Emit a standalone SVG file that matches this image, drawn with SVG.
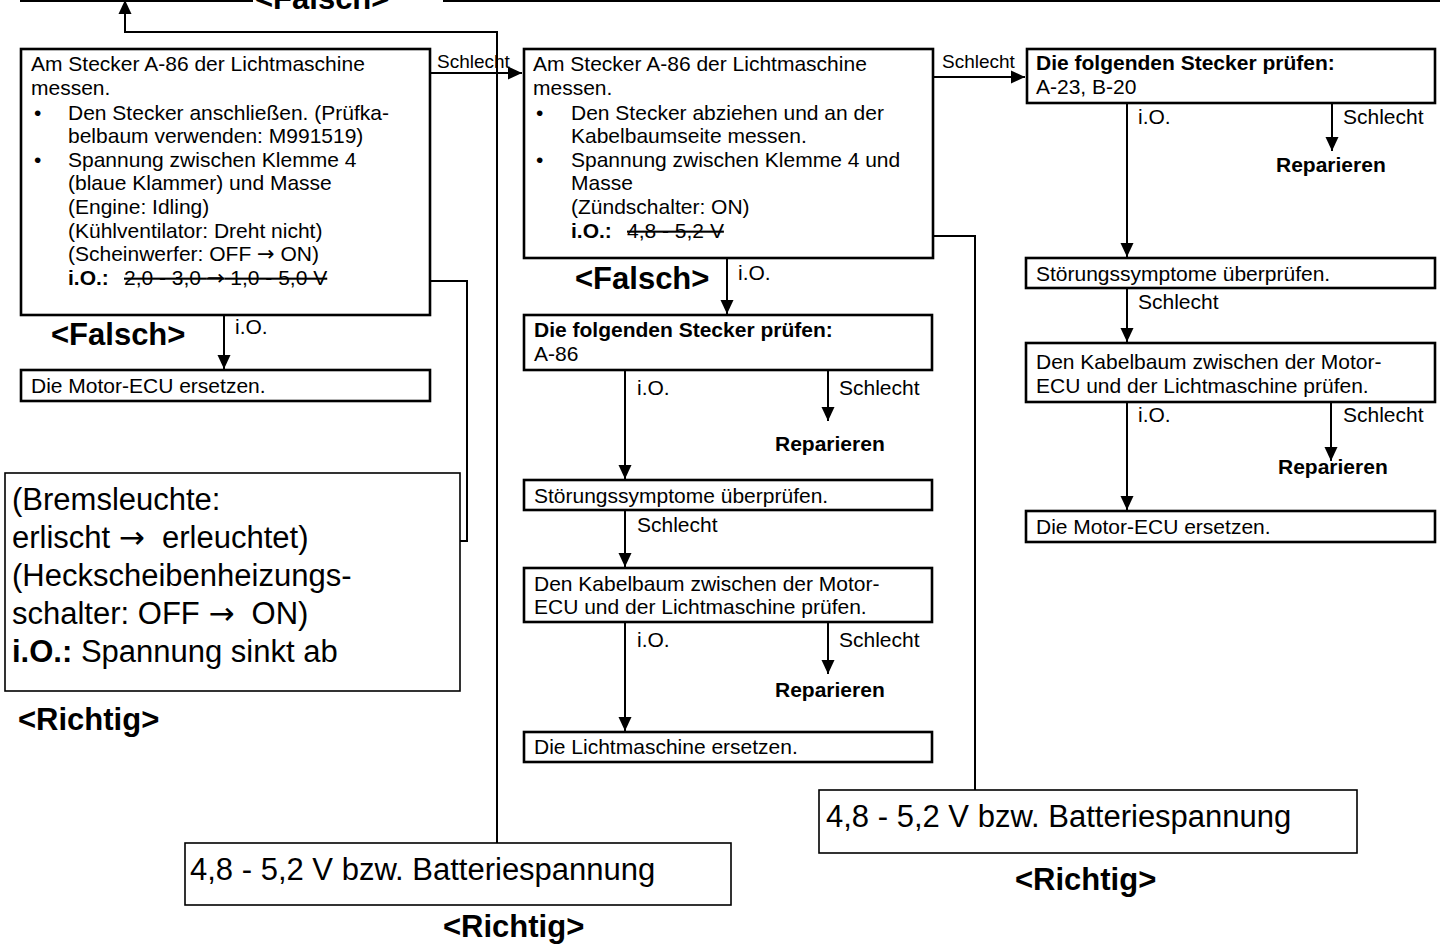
<svg xmlns="http://www.w3.org/2000/svg" width="1442" height="945" viewBox="0 0 1442 945">
<defs>
<marker id="ah" markerUnits="userSpaceOnUse" markerWidth="16" markerHeight="16" refX="14" refY="8" orient="auto" viewBox="0 0 16 16">
<path d="M0,1.5 L14,8 L0,14.5 z" fill="#000"/>
</marker>
</defs>
<style>
text{font-family:"Liberation Sans",Arial,sans-serif;fill:#000;}
.t{font-size:21px;}
.b{font-size:21px;font-weight:bold;}
.s{font-size:19px;}
.big{font-size:31px;}
.h{font-size:31px;font-weight:bold;}
.ar{font-family:"DejaVu Sans",sans-serif;}
.box{fill:#fff;stroke:#000;stroke-width:2.6;}
.cbox{fill:#fff;stroke:#000;stroke-width:1.6;}
.c{fill:none;stroke:#000;stroke-width:2;}
.cm{fill:none;stroke:#000;stroke-width:2;marker-end:url(#ah);}
.st{text-decoration:line-through;}
</style>
<rect width="1442" height="945" fill="#fff"/>

<g id="connectors">
<line class="c" x1="20" y1="1" x2="253" y2="1"/>
<line class="c" x1="443" y1="1" x2="1440" y2="1"/>
<polyline class="cm" points="497,843 497,32 125,32 125,0"/>
<polyline class="cm" points="460,541 467,541 467,281 345,281"/>
<polyline class="cm" points="975,790 975,236 738,236"/>
<line class="cm" x1="430" y1="73" x2="522" y2="73"/>
<line class="cm" x1="933" y1="77" x2="1025" y2="77"/>
<line class="cm" x1="224" y1="316" x2="224" y2="369"/>
<line class="cm" x1="727" y1="259" x2="727" y2="314"/>
<line class="cm" x1="625" y1="371" x2="625" y2="479"/>
<line class="cm" x1="828" y1="371" x2="828" y2="421"/>
<line class="cm" x1="625" y1="511" x2="625" y2="567"/>
<line class="cm" x1="625" y1="623" x2="625" y2="731"/>
<line class="cm" x1="828" y1="623" x2="828" y2="674"/>
<line class="cm" x1="1127" y1="104" x2="1127" y2="257"/>
<line class="cm" x1="1332" y1="104" x2="1332" y2="151"/>
<line class="cm" x1="1127" y1="289" x2="1127" y2="342"/>
<line class="cm" x1="1127" y1="403" x2="1127" y2="510"/>
<line class="cm" x1="1331" y1="403" x2="1331" y2="461"/>
</g>

<g id="labels">
<text class="h" x="255" y="9">&lt;Falsch&gt;</text>
<text class="s" x="437" y="68">Schlecht</text>
<text class="s" x="942" y="68">Schlecht</text>
<text class="h" x="51" y="345">&lt;Falsch&gt;</text>
<text class="t" x="235" y="334">i.O.</text>
<text class="h" x="575" y="289">&lt;Falsch&gt;</text>
<text class="t" x="738" y="280">i.O.</text>
<text class="t" x="637" y="395">i.O.</text>
<text class="t" x="839" y="395">Schlecht</text>
<text class="b" x="775" y="451">Reparieren</text>
<text class="t" x="637" y="532">Schlecht</text>
<text class="t" x="637" y="647">i.O.</text>
<text class="t" x="839" y="647">Schlecht</text>
<text class="b" x="775" y="697">Reparieren</text>
<text class="t" x="1138" y="124">i.O.</text>
<text class="t" x="1343" y="124">Schlecht</text>
<text class="b" x="1276" y="172">Reparieren</text>
<text class="t" x="1138" y="309">Schlecht</text>
<text class="t" x="1138" y="422">i.O.</text>
<text class="t" x="1343" y="422">Schlecht</text>
<text class="b" x="1278" y="474">Reparieren</text>
<text class="h" x="18" y="730">&lt;Richtig&gt;</text>
<text class="h" x="443" y="937">&lt;Richtig&gt;</text>
<text class="h" x="1015" y="890">&lt;Richtig&gt;</text>
</g>

<g id="n-left-measure">
<rect class="box" x="21" y="49" width="409" height="266"/>
<text class="t" x="31" y="71">Am Stecker A-86 der Lichtmaschine</text>
<text class="t" x="31" y="95">messen.</text>
<text class="t" x="34" y="120">•</text>
<text class="t" x="68" y="120">Den Stecker anschließen. (Prüfka-</text>
<text class="t" x="68" y="143">belbaum verwenden: M991519)</text>
<text class="t" x="34" y="167">•</text>
<text class="t" x="68" y="167">Spannung zwischen Klemme 4</text>
<text class="t" x="68" y="190">(blaue Klammer) und Masse</text>
<text class="t" x="68" y="214">(Engine: Idling)</text>
<text class="t" x="68" y="238">(Kühlventilator: Dreht nicht)</text>
<text class="t" x="68" y="261">(Scheinwerfer: OFF <tspan class="ar">→</tspan> ON)</text>
<text class="b" x="68" y="285">i.O.:</text>
<text class="t st" x="124" y="285">2,0 - 3,0 <tspan class="ar">→</tspan> 1,0 - 5,0 V</text>
</g>

<g id="n-left-replace">
<rect class="box" x="21" y="370" width="409" height="31"/>
<text class="t" x="31" y="393">Die Motor-ECU ersetzen.</text>
</g>

<g id="n-left-note">
<rect class="cbox" x="5" y="473" width="455" height="218"/>
<text class="big" x="12" y="510">(Bremsleuchte:</text>
<text class="big" x="12" y="548" xml:space="preserve">erlischt <tspan class="ar">→</tspan>  erleuchtet)</text>
<text class="big" x="12" y="586">(Heckscheibenheizungs-</text>
<text class="big" x="12" y="624" xml:space="preserve">schalter: OFF <tspan class="ar">→</tspan>  ON)</text>
<text class="big" x="12" y="662"><tspan font-weight="bold">i.O.:</tspan> Spannung sinkt ab</text>
</g>

<g id="n-bottom-left-note">
<rect class="cbox" x="185" y="843" width="546" height="62"/>
<text class="big" x="190" y="880">4,8 - 5,2 V bzw. Batteriespannung</text>
</g>

<g id="n-mid-measure">
<rect class="box" x="524" y="49" width="409" height="209"/>
<text class="t" x="533" y="71">Am Stecker A-86 der Lichtmaschine</text>
<text class="t" x="533" y="95">messen.</text>
<text class="t" x="536" y="120">•</text>
<text class="t" x="571" y="120">Den Stecker abziehen und an der</text>
<text class="t" x="571" y="143">Kabelbaumseite messen.</text>
<text class="t" x="536" y="167">•</text>
<text class="t" x="571" y="167">Spannung zwischen Klemme 4 und</text>
<text class="t" x="571" y="190">Masse</text>
<text class="t" x="571" y="214">(Zündschalter: ON)</text>
<text class="b" x="571" y="238">i.O.:</text>
<text class="t st" x="627" y="238">4,8 - 5,2 V</text>
</g>

<g id="n-mid-connector">
<rect class="box" x="524" y="315" width="408" height="55"/>
<text class="b" x="534" y="337">Die folgenden Stecker prüfen:</text>
<text class="t" x="534" y="361">A-86</text>
</g>

<g id="n-mid-symptoms">
<rect class="box" x="524" y="480" width="408" height="30"/>
<text class="t" x="534" y="503">Störungssymptome überprüfen.</text>
</g>

<g id="n-mid-harness">
<rect class="box" x="524" y="568" width="408" height="54"/>
<text class="t" x="534" y="591">Den Kabelbaum zwischen der Motor-</text>
<text class="t" x="534" y="614">ECU und der Lichtmaschine prüfen.</text>
</g>

<g id="n-mid-replace">
<rect class="box" x="524" y="732" width="408" height="30"/>
<text class="t" x="534" y="754">Die Lichtmaschine ersetzen.</text>
</g>

<g id="n-right-note">
<rect class="cbox" x="819" y="790" width="538" height="63"/>
<text class="big" x="826" y="827">4,8 - 5,2 V bzw. Batteriespannung</text>
</g>

<g id="n-right-connector">
<rect class="box" x="1027" y="49" width="408" height="54"/>
<text class="b" x="1036" y="70">Die folgenden Stecker prüfen:</text>
<text class="t" x="1036" y="94">A-23, B-20</text>
</g>

<g id="n-right-symptoms">
<rect class="box" x="1026" y="258" width="409" height="30"/>
<text class="t" x="1036" y="281">Störungssymptome überprüfen.</text>
</g>

<g id="n-right-harness">
<rect class="box" x="1026" y="343" width="409" height="59"/>
<text class="t" x="1036" y="369">Den Kabelbaum zwischen der Motor-</text>
<text class="t" x="1036" y="393">ECU und der Lichtmaschine prüfen.</text>
</g>

<g id="n-right-replace">
<rect class="box" x="1026" y="511" width="409" height="31"/>
<text class="t" x="1036" y="534">Die Motor-ECU ersetzen.</text>
</g>
</svg>
